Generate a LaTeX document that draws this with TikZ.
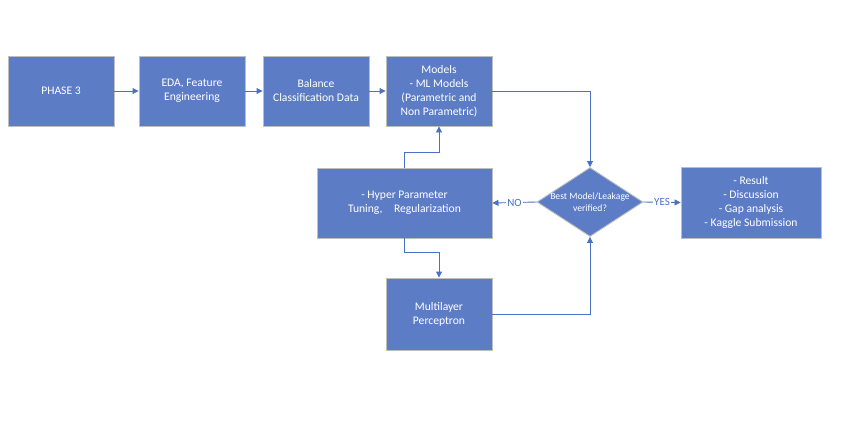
\documentclass[tikz,border=0pt]{standalone}
\usepackage{fontspec}
\setmainfont{Carlito}
\usetikzlibrary{shapes.geometric,arrows.meta}
\definecolor{boxfill}{RGB}{92,125,198}
\definecolor{boxline}{RGB}{190,190,190}
\definecolor{conn}{RGB}{72,114,196}
\tikzset{
  box/.style={draw=boxline, line width=0.9pt, fill=boxfill, text=white, align=center,
    minimum width=106pt, minimum height=70pt, inner sep=1pt, font=\fontsize{11.6}{14}\selectfont},
  dia/.style={draw=boxline, line width=0.9pt, fill=boxfill, shape=diamond, minimum width=106pt,
    minimum height=69pt, inner sep=0pt, aspect=1.54},
  conn/.style={draw=conn, line width=0.9pt, -{Triangle[width=6pt,length=6pt]}},
  lab/.style={fill=white, text=conn, inner sep=1pt, font=\fontsize{11}{13}\selectfont}
}
\begin{document}
\begin{tikzpicture}[x=1pt,y=-1pt]
\useasboundingbox (0,0) rectangle (841,440);
\node[box] (phase) at (61,91) {PHASE 3};
\node[box] (eda) at (192,91) {EDA, Feature\\Engineering};
\node[box] (bal) at (316,91) {Balance\\Classification Data};
\node[box] (models) at (439,91) {Models\\- ML Models\\(Parametric and\\Non Parametric)};
\node[box, minimum width=175pt] (hyper) at (404.5,203) {- Hyper Parameter\\Tuning,\quad Regularization};
\node[dia] (dec) at (590,202) {};
\node[text=white, align=center, font=\fontsize{9.6}{12}\selectfont] (declab) at (dec) {Best Model/Leakage\\verified?};
\node[box, minimum width=140pt, minimum height=71pt] (res) at (751,202.5) {- Result\\- Discussion\\- Gap analysis\\- Kaggle Submission};
\node[box, minimum height=72pt] (mlp) at (439,314) {Multilayer\\Perceptron};

\draw[conn] (phase.east) -- (eda.west);
\draw[conn] (eda.east) -- (bal.west);
\draw[conn] (bal.east) -- (models.west);
\draw[conn] (models.east) -| (dec.north);
\draw[conn] (dec.west) -- node[lab] (no) {NO} (hyper.east);
\draw[conn] (dec.east) -- node[lab] (yes) {YES} (res.west);
\draw[conn] (hyper.north) -- ++(0,-15) -| (models.south);
\draw[conn] (hyper.south) -- ++(0,14) -| (mlp.north);
\draw[conn] (mlp.east) -| (dec.south);
\end{tikzpicture}
\end{document}
